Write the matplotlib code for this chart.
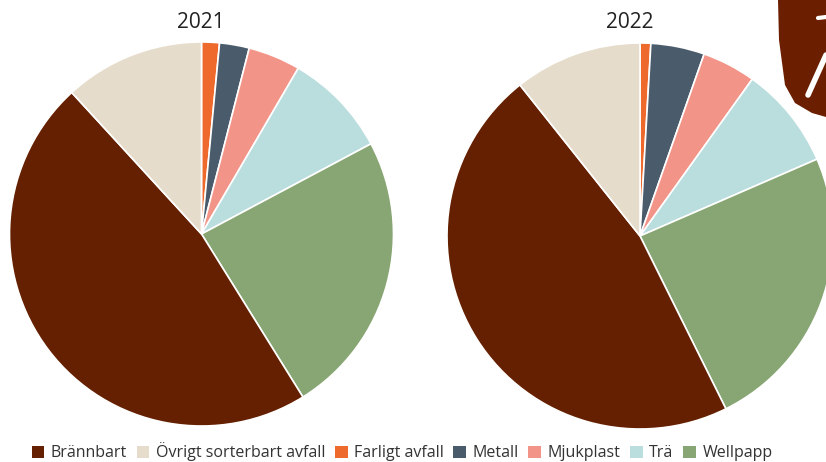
import matplotlib.pyplot as plt
from matplotlib.patches import Patch, Polygon

plt.rcParams["font.family"] = ["Open Sans", "DejaVu Sans"]

# DATA (share of waste, %)
categories = ["Brännbart", "Övrigt sorterbart avfall", "Farligt avfall",
              "Metall", "Mjukplast", "Trä", "Wellpapp"]
colors = ["#642000", "#E6DCCB", "#EE6A2C", "#4A5C6C", "#F39488", "#BADDDE", "#87A673"]

years = ["2021", "2022"]
values_2021 = [47.0, 11.8, 1.5, 2.5, 4.4, 8.8, 23.9]
values_2022 = [46.7, 10.7, 0.9, 4.5, 4.5, 8.6, 24.2]

# slices are drawn clockwise from 12 o'clock starting with Farligt avfall
draw_order = [2, 3, 4, 5, 6, 0, 1]

W, H = 826, 462
fig = plt.figure(figsize=(W / 100, H / 100), dpi=100)

def add_pie(cx, cy, r, values, title, tx):
    ax = fig.add_axes([(cx - r) / W, (H - cy - r) / H, 2 * r / W, 2 * r / H])
    ax.pie([values[i] for i in draw_order],
           colors=[colors[i] for i in draw_order],
           startangle=90, counterclock=False, radius=1,
           wedgeprops=dict(edgecolor="white", linewidth=1.2))
    ax.set_xlim(-1, 1)
    ax.set_ylim(-1, 1)
    ax.set_aspect("auto")
    fig.text(tx / W, 1 - 22 / H, title, ha="center", va="center",
             fontsize=15, color="#222222")

add_pie(201.5, 234, 192, values_2021, years[0], 200.5)
add_pie(640, 236, 193, values_2022, years[1], 630)

# decorative logo corner (top right)
logo = Polygon([(778 / W, 1), (779 / W, 1 - 40 / H), (785 / W, 1 - 85 / H),
                (795 / W, 1 - 103 / H), (812 / W, 1 - 113 / H), (826 / W, 1 - 117 / H),
                (826 / W, 1)], closed=True, transform=fig.transFigure,
               facecolor="#6B1F00", edgecolor="none")
fig.patches.append(logo)
fig.lines.append(plt.Line2D([808 / W, 826 / W], [1 - 95 / H, 1 - 55 / H],
                            transform=fig.transFigure, color="white",
                            linewidth=4, solid_capstyle="round"))
fig.lines.append(plt.Line2D([818 / W, 826 / W], [1 - 18 / H, 1 - 17 / H],
                            transform=fig.transFigure, color="white",
                            linewidth=3, solid_capstyle="round"))

# LEGEND
handles = [Patch(facecolor=c, edgecolor="none", label=l) for c, l in zip(colors, categories)]
fig.legend(handles=handles, loc="center", bbox_to_anchor=(402 / W, 1 - 452 / H),
           ncol=7, frameon=False, fontsize=11.5, handlelength=0.8, handleheight=0.8,
           handletextpad=0.4, columnspacing=0.6, labelcolor="#333333")

fig.savefig("out.png", dpi=100, facecolor="white")
